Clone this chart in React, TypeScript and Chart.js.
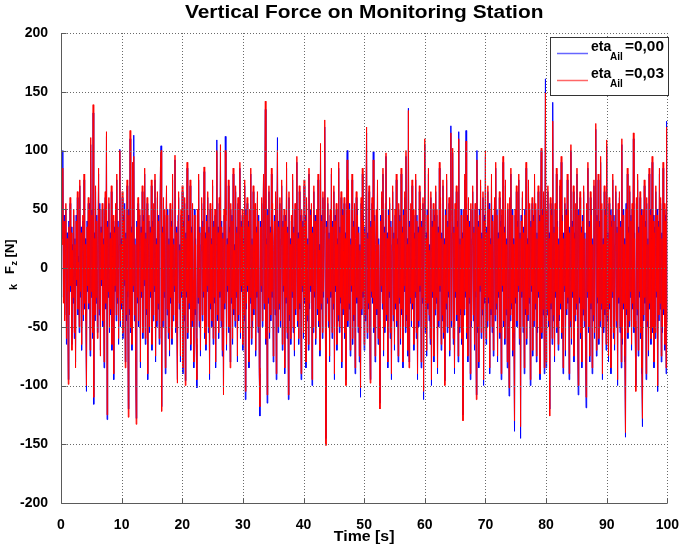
import { useEffect, useRef } from 'react';
import { Chart, registerables } from 'chart.js';

Chart.register(...registerables);

const TITLE = 'Vertical Force on Monitoring Station';
const X_LABEL = 'Time [s]';
const T_START = 0;
const T_STEP = 0.1;
const X_TICKS = [0, 10, 20, 30, 40, 50, 60, 70, 80, 90, 100];
const Y_TICKS = [-200, -150, -100, -50, 0, 50, 100, 150, 200];
const SERIES_LABELS = ['=0,00', '=0,03'];

// eta_Ail = 0,03 (red), one value every 0.1 s
const RED = [
30,45,20,85,-30,40,-45,10,55,-60,25,-20,-99,35,-40,60,-15,30,-70,15,
-25,50,-55,20,-85,40,-10,65,-35,5,-50,75,-20,30,-65,15,45,-40,80,-30,
20,-45,-100,35,-15,60,-30,50,-70,111,-20,45,-55,139,-110,25,-40,70,-25,40,
-60,15,85,-35,50,-75,30,-10,55,-45,20,-80,40,65,-30,116,-125,35,-20,60,
-50,25,-35,70,-65,10,45,-90,30,-15,55,-40,80,-25,35,-60,15,100,-45,20,
-30,65,-55,40,-10,50,-85,25,-40,75,-20,-127,45,-35,117,-50,30,-65,90,-15,
95,-40,20,-70,-133,35,-25,60,-45,15,50,-80,30,-20,70,-55,40,-10,85,-60,
25,-35,60,-90,15,45,-50,30,-20,75,-65,35,-40,55,-15,80,-75,20,-45,65,
-30,40,-60,25,85,100,-122,30,-45,60,-20,50,-85,15,70,-35,45,-55,20,-70,
55,-25,35,-60,80,-40,20,-15,96,-50,30,-45,-98,40,65,-30,15,-75,50,-20,
70,-85,35,-40,60,-100,25,-20,90,-55,40,-30,15,75,-65,30,-45,55,-10,-80,
45,-35,20,-60,-95,50,-25,80,-45,30,-70,15,60,-40,35,-20,86,-55,25,-65,
40,-15,65,-50,30,-90,55,-30,20,-45,75,-60,35,-25,50,-80,15,100,-40,30,
-55,60,-20,105,-45,35,-70,25,-108,50,-30,100,40,-65,20,-15,75,-50,30,-85,
55,-25,40,-60,85,-35,15,-45,70,-20,30,-75,60,-40,25,90,-55,35,-15,50,
-65,20,-40,75,-105,45,-30,60,-15,35,-80,50,-25,85,-60,20,-45,70,-35,15,
55,-70,30,-20,65,-50,40,-85,-118,35,-15,60,-45,25,80,-30,50,142,-60,20,
-108,45,-25,70,-55,30,-40,85,-20,55,-75,15,40,-35,65,-90,25,100,-50,35,
-30,60,-45,20,75,-65,35,-15,50,-85,40,-25,90,-55,30,-108,65,-40,20,-60,
45,-20,80,-50,30,-70,55,-35,15,95,-45,25,-60,70,-30,40,-90,50,-15,35,
-55,75,-25,40,-80,60,-40,20,-65,85,-30,45,-15,55,-95,30,-50,70,-20,40,
-60,25,50,-35,80,-45,15,-70,106,-30,40,-55,65,-20,30,126,-40,-151,35,-25,
60,-45,25,-75,50,-20,85,-55,35,-30,70,-90,40,-15,55,-65,20,-40,90,-50,
30,-25,65,-80,45,-35,15,60,-55,25,-100,40,92,-45,75,-30,50,-70,20,-15,
80,-60,35,-40,55,-85,20,65,-25,45,-50,30,-75,15,-102,60,-35,85,-20,40,
-65,30,-40,55,120,-55,25,-30,70,-45,-98,35,-20,60,-25,92,-50,40,-75,15,
50,-35,75,-60,20,-45,-120,40,-15,65,-30,85,-70,30,-50,55,98,-40,25,-80,
45,-20,60,-55,35,-90,15,70,-40,25,-65,50,-30,80,-45,20,-75,55,-25,40,
-60,85,-35,30,-80,45,-15,65,-50,100,-40,20,-70,134,-85,35,-25,55,-45,75,
-30,50,-65,25,-20,80,-55,40,-90,30,-45,70,-15,55,-80,35,-25,60,-105,40,
110,-50,25,-70,45,-30,85,-40,15,-60,65,-95,35,-20,55,-75,40,-35,70,-25,
50,-85,30,-45,90,-15,60,-65,25,-40,75,-55,20,-100,45,-30,80,-50,35,-20,
60,-70,40,115,-45,25,102,-60,30,-85,55,-20,70,-40,35,-75,110,-50,20,-35,
45,-60,25,-130,50,-35,80,-20,108,-55,40,-75,60,-25,35,-90,55,-45,20,70,
-40,30,-65,55,-20,-112,92,-50,35,-80,45,-15,75,-55,25,-35,65,-95,40,-25,
100,-60,30,-45,70,-25,50,-85,20,-35,80,-50,40,-70,15,60,-40,90,-30,45,
-75,25,-20,65,-55,35,-90,50,-15,95,-45,30,-60,75,-35,20,-80,55,-25,-102,
60,-40,85,-30,45,-70,20,-55,-130,50,-25,70,-45,35,-15,80,-60,25,-135,40,
-20,65,-50,30,-85,45,-35,90,-60,20,-40,75,-25,55,-95,35,-15,60,-70,40,
-45,80,-30,55,-75,25,-50,70,-20,40,-90,35,102,-55,45,-35,65,-85,20,149,
-80,50,-35,70,-45,25,-126,60,-30,45,-60,125,-40,30,-75,55,-20,85,-50,35,
-65,20,-40,75,-30,95,-55,40,-85,25,-15,60,-70,45,-35,80,-25,50,-90,30,
-45,105,-60,35,-20,70,-75,25,-40,55,-30,85,-50,-100,45,-25,65,-55,30,-80,
40,-35,70,-45,25,-60,-110,55,-20,90,-50,35,-75,65,-30,45,-85,20,-40,75,
-55,30,123,-70,40,-25,80,-60,35,-45,95,-30,55,-90,20,-50,70,-35,45,-65,
109,-40,25,-75,60,-30,45,-85,35,-20,80,-55,40,-65,15,70,-45,30,-95,55,
-25,65,-50,35,-80,110,-60,45,-30,20,-75,-140,50,-35,85,-55,30,-45,70,-20,
40,-65,55,-30,115,-50,25,-45,-105,60,-35,80,-70,30,-20,65,-55,45,-85,-128,
50,-40,75,-25,35,-90,60,-45,20,-70,85,-30,45,-60,25,95,-50,40,-80,30,
-55,70,-20,45,-100,35,-40,85,-30,60,-75,25,-50,90,-35,55,-65,40,-85,120,
-50,
];

// eta_Ail = 0,00 (blue), one value every 0.1 s
const BLUE = [
40,50,25,100,-25,45,-40,15,50,-65,30,-15,-95,40,-35,55,-20,35,-65,20,
-30,45,-60,25,-80,45,-15,60,-40,10,-55,70,-25,35,-70,20,40,-45,75,-35,
25,-40,-105,40,-20,55,-35,55,-75,105,-25,50,-60,132,-116,30,-45,65,-30,45,
-55,20,80,-40,55,-70,35,-15,50,-50,25,-85,45,60,-35,112,-129,40,-25,55,
-55,30,-40,65,-70,15,40,-95,35,-20,50,-45,75,-30,40,-65,20,101,-50,25,
-35,60,-60,45,-15,55,-80,30,-45,70,-25,-120,50,-40,110,-55,35,-70,85,-20,
113,-45,25,-75,-128,40,-30,55,-50,20,45,-85,35,-25,65,-60,45,-15,80,-65,
30,-40,55,-95,20,40,-55,35,-25,70,-70,40,-45,50,-20,75,-80,25,-50,60,
-35,45,-65,30,80,104,-118,35,-50,55,-25,45,-90,20,65,-40,50,-60,25,-75,
50,-30,40,-65,75,-45,25,-20,92,-55,35,-50,-95,45,60,-35,20,-80,45,-25,
65,-90,40,-45,55,-96,30,-25,85,-60,45,-35,20,70,-70,35,-50,50,-15,-85,
50,-40,25,-65,-102,45,-30,75,-50,35,-75,20,55,-45,40,-25,82,-60,30,-70,
45,-20,60,-55,35,-95,50,-35,25,-50,70,-65,40,-30,45,-85,20,109,-45,35,
-60,55,-25,100,-50,40,-75,30,-105,45,-35,112,45,-70,25,-20,70,-55,35,-80,
50,-30,45,-65,80,-40,20,-50,65,-25,35,-80,55,-45,30,85,-60,40,-20,45,
-70,25,-45,70,-112,50,-35,55,-20,40,-85,45,-30,80,-65,25,-50,65,-40,20,
50,-75,35,-25,60,-55,45,-90,-126,40,-20,55,-50,30,75,-35,55,135,-65,25,
-115,50,-30,65,-60,35,-45,80,-25,50,-80,20,45,-40,60,-95,30,111,-55,40,
-35,55,-50,25,70,-70,40,-20,45,-90,45,-30,85,-60,35,-112,60,-45,25,-65,
40,-25,75,-55,35,-75,50,-40,20,90,-50,30,-65,65,-35,45,-95,45,-20,40,
-60,70,-30,45,-85,55,-45,25,-70,80,-35,50,-20,50,-100,35,-55,65,-25,45,
-65,30,45,-40,75,-50,20,-75,100,-35,45,-60,60,-25,35,120,-45,-145,40,-30,
55,-50,30,-80,45,-25,80,-60,40,-35,65,-95,45,-20,50,-70,25,-45,85,-55,
35,-30,60,-85,50,-40,20,55,-60,30,-95,45,100,-50,70,-35,55,-75,25,-20,
75,-65,40,-45,50,-90,25,60,-30,50,-55,35,-80,20,-110,55,-40,80,-25,45,
-70,35,-45,50,115,-60,30,-35,65,-50,-95,40,-25,55,-30,99,-55,45,-80,20,
45,-40,70,-65,25,-50,-115,45,-20,60,-35,80,-75,35,-55,50,95,-45,30,-85,
50,-25,55,-60,40,-95,20,65,-45,30,-70,45,-35,75,-50,25,-80,50,-30,45,
-65,80,-40,35,-85,50,-20,60,-55,95,-45,25,-75,136,-80,40,-30,50,-50,70,
-35,45,-70,30,-25,75,-60,45,-95,35,-50,65,-20,50,-85,40,-30,55,-112,45,
105,-55,30,-75,50,-35,80,-45,20,-65,60,-100,40,-25,50,-80,45,-40,65,-30,
45,-90,35,-50,85,-20,55,-70,30,-45,70,-60,25,-96,50,-35,75,-55,40,-25,
55,-75,45,121,-50,30,98,-65,35,-90,50,-25,65,-45,40,-80,116,-55,25,-40,
50,-65,30,-125,45,-40,75,-25,117,-60,45,-80,55,-30,40,-95,50,-50,25,65,
-45,35,-70,50,-25,-108,100,-55,40,-85,50,-20,70,-60,30,-40,60,-100,45,-30,
95,-65,35,-50,65,-30,55,-90,25,-40,75,-55,45,-75,20,55,-45,85,-35,50,
-80,30,-25,60,-60,40,-95,45,-20,90,-50,35,-65,70,-40,25,-85,50,-30,-109,
55,-45,80,-35,50,-75,25,-60,-139,45,-30,65,-50,40,-20,75,-65,30,-145,45,
-25,60,-55,35,-90,50,-40,85,-65,25,-45,70,-30,50,-100,40,-20,55,-75,45,
-50,75,-35,50,-80,30,-55,65,-25,45,-95,40,100,-60,50,-40,60,-90,25,161,
-85,45,-40,65,-50,30,-120,55,-35,50,-65,141,-45,35,-80,50,-25,80,-55,40,
-70,25,-45,70,-35,90,-60,45,-90,30,-20,55,-75,50,-40,75,-30,45,-95,35,
-50,100,-65,40,-25,65,-80,30,-45,50,-35,80,-55,-108,50,-30,60,-60,35,-85,
45,-40,65,-50,30,-65,-119,50,-25,85,-55,40,-80,60,-35,50,-90,25,-45,70,
-60,35,118,-75,45,-30,75,-65,40,-50,90,-35,50,-95,25,-55,65,-40,50,-70,
104,-45,30,-80,55,-35,50,-90,40,-25,75,-60,45,-70,20,65,-50,35,-100,50,
-30,60,-55,40,-85,105,-65,50,-35,25,-80,-144,55,-40,80,-60,35,-50,65,-25,
45,-70,50,-35,110,-55,30,-50,-100,55,-40,75,-75,35,-25,60,-60,50,-90,-135,
45,-45,70,-30,40,-95,55,-50,25,-75,80,-35,50,-65,30,90,-55,45,-85,35,
-60,65,-25,50,-105,40,-45,80,-35,55,-80,30,-55,85,-40,50,-70,45,-90,125,
-45,
];

const BLUE_COLOR = '#0000ff';
const RED_COLOR = '#ff0000';
const FONT = '"Liberation Sans", Arial, Helvetica, sans-serif';

function toPoints(values: number[]) {
  return values.map((v, i) => ({ x: T_START + i * T_STEP, y: v }));
}

function drawText(ctx: CanvasRenderingContext2D, text: string, x: number, y: number, font: string, align: CanvasTextAlign, sx = 1) {
  ctx.save();
  ctx.font = font;
  ctx.translate(x, y);
  ctx.scale(sx, 1);
  ctx.textAlign = align;
  ctx.textBaseline = 'alphabetic';
  ctx.fillStyle = '#000';
  ctx.fillText(text, 0, 0);
  ctx.restore();
}

const decor = {
  id: 'matlabDecor',
  afterDatasetsDraw(chart: any) {
    const ctx: CanvasRenderingContext2D = chart.ctx;
    const xs = chart.scales.x;
    const ys = chart.scales.y;
    const { left, right, top, bottom } = chart.chartArea;
    ctx.save();
    // dotted grid, drawn over the data
    ctx.strokeStyle = '#6a6a6a';
    ctx.lineWidth = 1;
    ctx.setLineDash([1, 2]);
    ctx.beginPath();
    X_TICKS.forEach((t) => {
      if (t === X_TICKS[0]) return;
      const px = Math.round(xs.getPixelForValue(t)) + 0.5;
      ctx.moveTo(px, top);
      ctx.lineTo(px, bottom);
    });
    Y_TICKS.forEach((t) => {
      if (t === Y_TICKS[0]) return;
      const py = Math.round(ys.getPixelForValue(t)) + 0.5;
      ctx.moveTo(left, py);
      ctx.lineTo(right, py);
    });
    ctx.stroke();
    ctx.setLineDash([]);
    // solid left and bottom axes with inward ticks
    ctx.strokeStyle = '#5a5a5a';
    ctx.beginPath();
    const lx = Math.round(left) + 0.5;
    const by = Math.round(bottom) + 0.5;
    ctx.moveTo(lx, top);
    ctx.lineTo(lx, by);
    ctx.lineTo(right, by);
    X_TICKS.forEach((t) => {
      const px = Math.round(xs.getPixelForValue(t)) + 0.5;
      ctx.moveTo(px, by);
      ctx.lineTo(px, by - 5);
    });
    Y_TICKS.forEach((t) => {
      const py = Math.round(ys.getPixelForValue(t)) + 0.5;
      ctx.moveTo(lx, py);
      ctx.lineTo(lx + 5, py);
    });
    ctx.stroke();

    // legend
    const bx = 550.5, bty = 37.5, bw = 118, bh = 58;
    ctx.fillStyle = '#fff';
    ctx.fillRect(bx, bty, bw, bh);
    ctx.strokeStyle = '#333';
    ctx.strokeRect(bx, bty, bw, bh);
    const rows = [
      { color: BLUE_COLOR, y: 51, label: SERIES_LABELS[0] },
      { color: RED_COLOR, y: 78, label: SERIES_LABELS[1] },
    ];
    rows.forEach((r) => {
      ctx.strokeStyle = r.color;
      ctx.globalAlpha = 0.6;
      ctx.lineWidth = 1.5;
      ctx.beginPath();
      ctx.moveTo(557, r.y + 2.5);
      ctx.lineTo(588, r.y + 2.5);
      ctx.stroke();
      ctx.globalAlpha = 1;
      drawText(ctx, 'eta', 591, r.y, `bold 14px ${FONT}`, 'left');
      drawText(ctx, 'Ail', 610, r.y + 9, `bold 10px ${FONT}`, 'left');
      drawText(ctx, r.label, 625, r.y, `bold 14px ${FONT}`, 'left', 1.1);
    });
    ctx.restore();
  },
  afterDraw(chart: any) {
    const ctx: CanvasRenderingContext2D = chart.ctx;
    const { left, right } = chart.chartArea;
    const cx = (left + right) / 2;
    drawText(ctx, TITLE, cx, 18, `bold 18px ${FONT}`, 'center', 1.16);
    drawText(ctx, X_LABEL, cx, 541, `bold 15px ${FONT}`, 'center', 1.06);
    ctx.save();
    ctx.translate(13.5, 266);
    ctx.rotate(-Math.PI / 2);
    ctx.fillStyle = '#000';
    ctx.textBaseline = 'alphabetic';
    ctx.textAlign = 'left';
    ctx.font = `bold 11px ${FONT}`;
    ctx.fillText('k', -24, 3);
    ctx.font = `bold 13px ${FONT}`;
    ctx.fillText('F', -8, 0);
    ctx.font = `bold 9px ${FONT}`;
    ctx.fillText('z', 0.5, 3);
    ctx.font = `bold 13px ${FONT}`;
    ctx.fillText(' [N]', 5, 0);
    ctx.restore();
  },
};

export default function App() {
  const ref = useRef<HTMLCanvasElement | null>(null);
  useEffect(() => {
    document.body.style.margin = '0';
    const canvas = ref.current;
    if (!canvas) return;
    const chart = new Chart(canvas, {
      type: 'line',
      data: {
        datasets: [
          {
            label: 'eta_Ail=0,00',
            data: toPoints(BLUE),
            borderColor: BLUE_COLOR,
            borderWidth: 1,
            pointRadius: 0,
            tension: 0,
            order: 1,
          },
          {
            label: 'eta_Ail=0,03',
            data: toPoints(RED),
            borderColor: RED_COLOR,
            borderWidth: 1,
            pointRadius: 0,
            tension: 0,
            order: 0,
          },
        ],
      },
      options: {
        responsive: false,
        animation: false,
        events: [],
        layout: { padding: { left: 0, top: 33, right: 13, bottom: 0 } },
        plugins: { legend: { display: false }, tooltip: { enabled: false }, title: { display: false } },
        scales: {
          x: {
            type: 'linear',
            min: 0,
            max: 100,
            afterBuildTicks: (s: any) => { s.ticks = X_TICKS.map((v) => ({ value: v })); },
            afterFit: (s: any) => { s.height = 45; },
            grid: { display: false },
            border: { display: false },
            ticks: { color: '#000', padding: 6, maxRotation: 0, autoSkip: false, font: { family: FONT, weight: 'bold', size: 14 } },
          },
          y: {
            type: 'linear',
            min: -200,
            max: 200,
            afterBuildTicks: (s: any) => { s.ticks = Y_TICKS.map((v) => ({ value: v })); },
            afterFit: (s: any) => { s.width = 61; },
            grid: { display: false },
            border: { display: false },
            ticks: { color: '#000', padding: 5, autoSkip: false, font: { family: FONT, weight: 'bold', size: 14 } },
          },
        },
      },
      plugins: [decor],
    } as any);
    return () => chart.destroy();
  }, []);
  return (
    <div style={{ width: 685, height: 548 }}>
      <canvas ref={ref} width={685} height={548} />
    </div>
  );
}
